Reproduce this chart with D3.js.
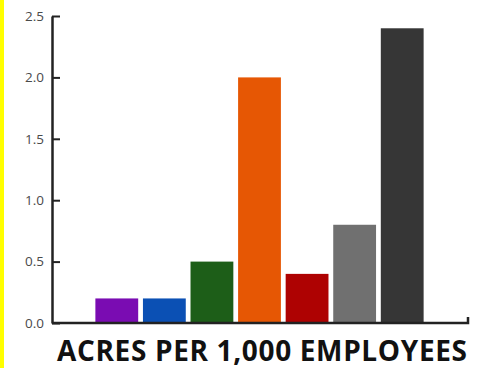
<!DOCTYPE html>
<html>
<head>
<meta charset="utf-8">
<script src="https://cdn.jsdelivr.net/npm/d3@7"></script>
<style>
  body { margin: 0; background: #fff; }
  svg { display: block; }
  .tick text { font-family: "Open Sans", sans-serif; fill: #4a4a4a; }
</style>
</head>
<body>
<div id="chart"></div>
<script>
var svgWidth = 495;
var svgHeight = 368;

// data
var categories = ["a", "b", "c", "d", "e", "f", "g"];
var values = [0.2, 0.2, 0.5, 2.0, 0.4, 0.8, 2.4];
var colors = ["#7a0cb2", "#0b50b4", "#1d5e18", "#e65704", "#ae0202", "#707070", "#363636"];
var yTicks = [0, 0.5, 1.0, 1.5, 2.0, 2.5];
var title = "ACRES PER 1,000 EMPLOYEES";

var svg = d3.select("#chart")
  .append("svg")
  .attr("width", svgWidth)
  .attr("height", svgHeight);

// yellow strip on the left edge
svg.append("rect")
  .attr("x", 0).attr("y", 0)
  .attr("width", 4).attr("height", svgHeight)
  .attr("fill", "#ffff00");

var axisX = 52;
var yScale = d3.scaleLinear()
  .domain([0, 2.5])
  .range([323, 16]);

var xScale = d3.scaleBand()
  .domain(categories)
  .range([93, 426])
  .paddingInner(0.1)
  .paddingOuter(0.05);

// bars
svg.selectAll("rect.bar")
  .data(values)
  .enter()
  .append("rect")
  .attr("class", "bar")
  .attr("x", (d, i) => xScale(categories[i]))
  .attr("y", d => yScale(d))
  .attr("width", xScale.bandwidth())
  .attr("height", d => yScale(0) - yScale(d))
  .attr("fill", (d, i) => colors[i]);

// y axis, ticks point inward
var leftAxis = d3.axisRight(yScale)
  .tickValues(yTicks)
  .tickFormat(d3.format(".1f"))
  .tickSize(8)
  .tickSizeOuter(0);

var yAxisG = svg.append("g")
  .attr("transform", `translate(${axisX}, 0)`)
  .call(leftAxis);

yAxisG.select(".domain").attr("stroke", "#222").attr("stroke-width", 2.5);
yAxisG.selectAll(".tick line").attr("stroke", "#222").attr("stroke-width", 2);
yAxisG.selectAll(".tick text")
  .attr("x", -8)
  .attr("text-anchor", "end")
  .attr("font-size", 13.5);

// x axis line with small end tick
var xEnd = 468;
svg.append("path")
  .attr("d", `M${axisX},${yScale(0)}H${xEnd}V${yScale(0) - 6}`)
  .attr("fill", "none")
  .attr("stroke", "#222")
  .attr("stroke-width", 2.5);

svg.append("text")
  .attr("x", 57)
  .attr("y", 361)
  .attr("textLength", 410)
  .attr("lengthAdjust", "spacing")
  .attr("font-family", "Open Sans, sans-serif")
  .attr("font-weight", "bold")
  .attr("font-size", 28)
  .attr("fill", "#111")
  .text(title);
</script>
</body>
</html>
